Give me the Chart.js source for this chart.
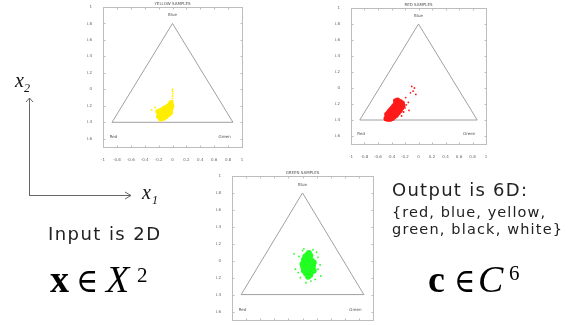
<!DOCTYPE html>
<html><head><meta charset="utf-8">
<script src="https://cdn.jsdelivr.net/npm/chart.js@4/dist/chart.umd.min.js"></script>
<style>
html,body{margin:0;padding:0;background:#fff;width:574px;height:326px;overflow:hidden;position:relative}
canvas.c{position:absolute}
svg{position:absolute;left:0;top:0}
</style></head><body>
<canvas id="cy" class="c" width="161" height="161" style="left:87px;top:0px"></canvas>
<canvas id="cr" class="c" width="157" height="158" style="left:335px;top:0px"></canvas>
<canvas id="cg" class="c" width="163" height="166" style="left:216px;top:168px"></canvas>
<svg width="574" height="326" xmlns="http://www.w3.org/2000/svg">
  <g stroke="#666" stroke-width="1" fill="none">
    <line x1="29.5" y1="98" x2="29.5" y2="196"/>
    <line x1="29.5" y1="195.5" x2="131" y2="195.5"/>
    <polyline points="26,102 29.5,98 33,102"/>
    <polyline points="125,192 131,195.5 125,199"/>
  </g>
  <g font-family="Liberation Serif" font-style="italic" fill="#111">
    <text x="15" y="87" font-size="20">x</text>
    <text x="24" y="92" font-size="12">2</text>
    <text x="142" y="199" font-size="20">x</text>
    <text x="152" y="204" font-size="12">1</text>
  </g>
  <g font-family="DejaVu Sans" fill="#222">
    <text x="48" y="240" font-size="18" textLength="112" lengthAdjust="spacing">Input is 2D</text>
    <text x="392" y="196" font-size="18" textLength="135" lengthAdjust="spacing">Output is 6D:</text>
    <text x="392" y="217" font-size="14.5" textLength="153" lengthAdjust="spacing">{red, blue, yellow,</text>
    <text x="392" y="234" font-size="14.5" textLength="170" lengthAdjust="spacing">green, black, white}</text>
  </g>
  <g font-family="Liberation Serif" fill="#000">
    <text x="50" y="292" font-size="38" font-weight="bold">x</text>
    <text x="76" y="292" font-size="34" font-family="DejaVu Serif" textLength="22" lengthAdjust="spacingAndGlyphs">∈</text>
    <text x="106" y="292" font-size="38" font-style="italic">X</text>
    <text x="137" y="282" font-size="21">2</text>
    <text x="428" y="292" font-size="38" font-weight="bold">c</text>
    <text x="454" y="292" font-size="34" font-family="DejaVu Serif" textLength="21" lengthAdjust="spacingAndGlyphs">∈</text>
    <text x="478" y="292" font-size="38" font-style="italic">C</text>
    <text x="509" y="280" font-size="21">6</text>
  </g>
</svg>
<script>
// ---- data ----
const xTicks = [-1, -0.8, -0.6, -0.4, -0.2, 0, 0.2, 0.4, 0.6, 0.8, 1];
const yTicks = [1, 0.8, 0.6, 0.4, 0.2, 0, -0.2, -0.4, -0.6];
const triangle = [[-0.87, -0.4], [0, 0.8], [0.87, -0.4], [-0.87, -0.4]];
const cornerLabels = [['Blue', 0, 0.9], ['Red', -0.85, -0.58], ['Green', 0.75, -0.58]];

const yellowCore = [
  [-0.20,-0.33],[-0.18,-0.34],[-0.16,-0.33],[-0.14,-0.32],[-0.12,-0.31],[-0.10,-0.30],[-0.08,-0.28],[-0.06,-0.27],[-0.04,-0.25],[-0.02,-0.23],
  [-0.19,-0.30],[-0.17,-0.29],[-0.15,-0.28],[-0.13,-0.27],[-0.11,-0.26],[-0.09,-0.25],[-0.07,-0.24],[-0.05,-0.22],[-0.03,-0.21],[-0.01,-0.20],
  [-0.21,-0.27],[-0.18,-0.26],[-0.15,-0.25],[-0.12,-0.23],[-0.09,-0.22],[-0.06,-0.20],[-0.03,-0.18],[-0.02,-0.16],
  [-0.17,-0.36],[-0.13,-0.35],[-0.09,-0.33],[-0.05,-0.30],[-0.03,-0.28],[-0.14,-0.30],[-0.10,-0.28],[-0.06,-0.25]
];
const yellowSparse = [
  [0.0,-0.14],[0.0,-0.11],[0.0,-0.08],[0.005,-0.05],[0.0,-0.02],[0.0,0.0],[-0.01,-0.17],[-0.30,-0.25],[-0.25,-0.22]
];
const redCore = [
  [-0.48,-0.38],[-0.46,-0.39],[-0.44,-0.38],[-0.42,-0.36],[-0.40,-0.34],[-0.38,-0.32],[-0.36,-0.30],[-0.34,-0.28],[-0.32,-0.26],[-0.30,-0.24],[-0.28,-0.22],[-0.26,-0.20],[-0.24,-0.19],
  [-0.47,-0.33],[-0.45,-0.31],[-0.43,-0.29],[-0.41,-0.27],[-0.39,-0.25],[-0.37,-0.23],[-0.35,-0.21],[-0.33,-0.19],[-0.31,-0.18],[-0.29,-0.17],
  [-0.42,-0.39],[-0.39,-0.38],[-0.36,-0.36],[-0.33,-0.34],[-0.30,-0.31],[-0.27,-0.28],[-0.25,-0.25],[-0.23,-0.22],
  [-0.44,-0.34],[-0.41,-0.32],[-0.38,-0.29],[-0.35,-0.26],[-0.32,-0.23],[-0.29,-0.20],[-0.27,-0.17],[-0.34,-0.16],[-0.31,-0.15],
  [-0.40,-0.37],[-0.37,-0.35],[-0.31,-0.29],[-0.28,-0.26]
];
const redSparse = [
  [-0.20,-0.25],[-0.18,-0.21],[-0.22,-0.30],[-0.15,-0.18],[-0.12,-0.06],[-0.08,-0.04],[-0.06,0.0],[-0.10,0.02],
  [-0.04,-0.08],[-0.19,-0.12],[-0.14,-0.28],[-0.50,-0.40],[-0.25,-0.35]
];
const greenCore = [
  [0.08,-0.05],[0.04,-0.05],[0.12,-0.05],[0.00,-0.04],[0.15,-0.06],
  [0.06,0.03],[0.10,0.03],[0.02,0.01],[0.13,0.00],[0.07,0.07],[0.04,0.05],[0.11,0.06],
  [0.06,-0.12],[0.10,-0.12],[0.03,-0.10],[0.14,-0.10],[0.08,-0.16],[0.11,-0.17],[0.05,-0.15],
  [0.01,-0.07],[0.16,-0.02],[0.03,-0.02],[0.12,-0.14],[0.09,0.09],[0.08,-0.19],[0.06,-0.08],[0.10,-0.08],
  [0.05,-0.01],[0.11,-0.02],[0.07,0.00],[0.09,-0.11],[0.13,-0.08],[0.02,-0.12],[0.16,-0.12]
];
const greenSparse = [
  [-0.05,0.05],[-0.10,-0.10],[-0.12,0.08],[0.22,-0.10],[0.25,-0.05],[0.20,0.10],[0.02,0.14],[0.12,-0.24],
  [0.05,-0.26],[-0.03,-0.20],[0.26,-0.18],[0.18,-0.22],[-0.06,-0.14],[0.22,0.04],[0.00,0.12],[0.15,0.13]
];

// ---- drawing ----
const framePlugin = {
  id: 'frame',
  afterDraw(chart, args, opts) {
    const { ctx, chartArea: a, scales: { x, y } } = chart;
    ctx.save();
    ctx.strokeStyle = '#bdbdbd'; ctx.lineWidth = 1;
    const L = Math.round(a.left) + 0.5, T = Math.round(a.top) + 0.5, R = Math.round(a.right) + 0.5, B = Math.round(a.bottom) + 0.5;
    ctx.strokeRect(L, T, R - L, B - T);
    ctx.beginPath();
    xTicks.forEach(v => { const p = Math.round(x.getPixelForValue(v)) + 0.5; ctx.moveTo(p, B); ctx.lineTo(p, B - 2); ctx.moveTo(p, T); ctx.lineTo(p, T + 2); });
    yTicks.forEach(v => { const p = Math.round(y.getPixelForValue(v)) + 0.5; ctx.moveTo(L, p); ctx.lineTo(L + 2, p); ctx.moveTo(R, p); ctx.lineTo(R - 2, p); });
    ctx.stroke();
    ctx.fillStyle = '#555'; ctx.font = '4px "DejaVu Sans"'; ctx.textAlign = 'center'; ctx.textBaseline = 'middle';
    cornerLabels.forEach(([t, vx, vy]) => ctx.fillText(t, x.getPixelForValue(vx), y.getPixelForValue(vy)));
    ctx.textBaseline = 'bottom';
    ctx.fillText(opts.title, (a.left + a.right) / 2, a.top - 1);
    ctx.restore();
  }
};

function makeChart(id, core, sparse, color, title, topPad, coreR) {
  const toPts = arr => arr.map(([x, y]) => ({ x, y }));
  return new Chart(document.getElementById(id), {
    type: 'scatter',
    data: {
      datasets: [
        { data: toPts(core), backgroundColor: color, borderColor: color, pointRadius: coreR, borderWidth: 0, order: 0 },
        { data: toPts(sparse), backgroundColor: color, borderColor: color, pointRadius: 0.9, borderWidth: 0, order: 1 },
        { data: toPts(triangle), showLine: true, borderColor: '#a0a0a0', borderWidth: 1, pointRadius: 0, fill: false, order: 2 }
      ]
    },
    options: {
      responsive: false, animation: false, devicePixelRatio: 1,
      layout: { padding: { left: 0, top: topPad, right: 6, bottom: 0 } },
      plugins: { legend: { display: false }, tooltip: { enabled: false }, frame: { title } },
      scales: {
        x: {
          type: 'linear', min: -1, max: 1,
          afterBuildTicks: s => { s.ticks = xTicks.map(v => ({ value: v })); },
          afterFit: s => { s.height = 14; },
          grid: { display: false }, border: { display: false },
          ticks: { font: { size: 4, family: 'DejaVu Sans' }, color: '#666', padding: 3, autoSkip: false, maxRotation: 0,
                   callback: v => String(Number(v.toFixed(2))) }
        },
        y: {
          type: 'linear', min: -0.7, max: 1,
          afterBuildTicks: s => { s.ticks = yTicks.map(v => ({ value: v })); },
          afterFit: s => { s.width = 16; },
          grid: { display: false }, border: { display: false },
          ticks: { font: { size: 4, family: 'DejaVu Sans' }, color: '#666', padding: 3, autoSkip: false,
                   callback: v => String(Number(v.toFixed(2))) }
        }
      }
    },
    plugins: [framePlugin]
  });
}

makeChart('cy', yellowCore, yellowSparse, '#ffee00', 'YELLOW SAMPLES', 7, 2.6);
makeChart('cr', redCore, redSparse, '#ff1a1a', 'RED SAMPLES', 8, 2.6);
makeChart('cg', greenCore, greenSparse, '#22ff22', 'GREEN SAMPLES', 8, 3);
</script>
</body></html>
